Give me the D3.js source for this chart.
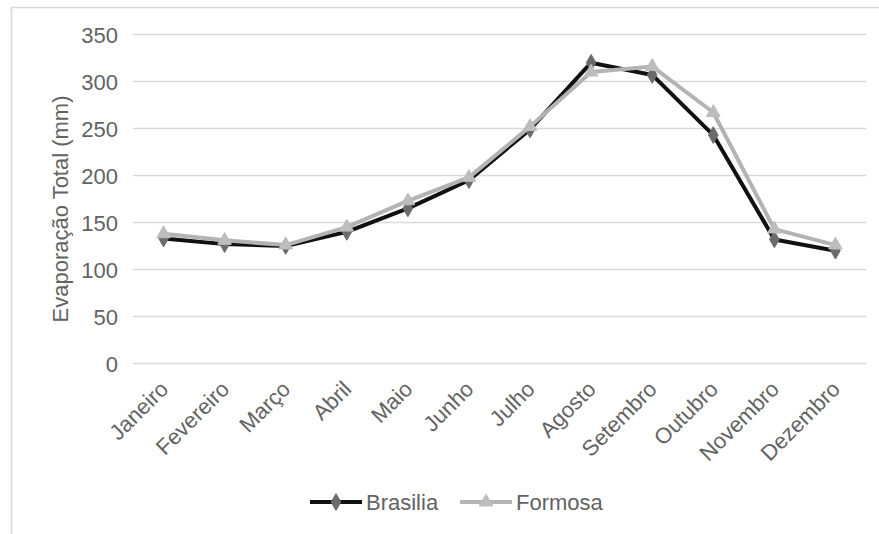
<!DOCTYPE html>
<html><head><meta charset="utf-8">
<script src="https://cdn.jsdelivr.net/npm/d3@7"></script>
<style>body{margin:0;background:#fff}svg{display:block}text{font-family:"Liberation Sans",Arial,sans-serif}</style>
</head><body><svg id="c" width="879" height="534"></svg>
<script>
const months = ["Janeiro","Fevereiro","Março","Abril","Maio","Junho","Julho","Agosto","Setembro","Outubro","Novembro","Dezembro"];
const brasilia = [133,127,125,140,165,195,249,320,307,243,132,120];
const formosa  = [138,131,126,145,173,198,252,310,316,267,143,126];
const yTicks = [0,50,100,150,200,250,300,350];
const seriesNames = ["Brasilia","Formosa"];

(function(){
const svg = d3.select("#c");
const pLeft = 133, pRight = 866, pTop = 34.5, pBottom = 363.5;
const txt = "#636363";
svg.append("rect").attr("x",11.5).attr("y",7.5).attr("width",900).attr("height",600)
  .attr("fill","#fff").attr("stroke","#d9d9d9").attr("stroke-width",1.5);

const x = d3.scaleBand().domain(months).range([pLeft,pRight]);
const y = d3.scaleLinear().domain([0,350]).range([pBottom,pTop]);

svg.append("g").selectAll("line").data(yTicks).join("line")
  .attr("x1",pLeft).attr("x2",pRight).attr("y1",d=>y(d)).attr("y2",d=>y(d))
  .attr("stroke","#d9d9d9").attr("stroke-width",1.5);

const yAxis = svg.append("g").attr("transform",`translate(${pLeft-15},0)`)
  .call(d3.axisLeft(y).tickValues(yTicks).tickSize(0).tickPadding(0));
yAxis.select(".domain").remove();
yAxis.selectAll("text").attr("fill",txt).attr("font-size",22).attr("dy","0.35em")
  .style("font-family",'"Liberation Sans",Arial,sans-serif');

const xAxis = svg.append("g").attr("transform",`translate(0,${pBottom})`)
  .call(d3.axisBottom(x).tickSize(0).tickPadding(0));
xAxis.select(".domain").remove();
xAxis.selectAll("text").attr("fill",txt).attr("font-size",22)
  .style("font-family",'"Liberation Sans",Arial,sans-serif')
  .attr("text-anchor","end").attr("dy",0).attr("y",0)
  .attr("transform","translate(6,27) rotate(-45)");

svg.append("text").attr("transform","translate(68,209) rotate(-90)")
  .attr("text-anchor","middle").attr("font-size",22).attr("fill",txt)
  .text("Evaporação Total (mm)");

const cx = m => x(m) + x.bandwidth()/2;
const line = d3.line().x((d,i)=>cx(months[i])).y(d=>y(d));

const diamond = d3.symbol().type(d3.symbolDiamond).size(80);
const tri = d3.symbol().type(d3.symbolTriangle).size(80);

svg.append("path").datum(brasilia).attr("d",line).attr("fill","none")
  .attr("stroke","#111").attr("stroke-width",4).attr("stroke-linejoin","round");
svg.append("g").selectAll("path").data(brasilia).join("path")
  .attr("d",diamond).attr("transform",(d,i)=>`translate(${cx(months[i])},${y(d)})`)
  .attr("fill","#6b6b6b").attr("stroke","#6b6b6b");
svg.append("path").datum(formosa).attr("d",line).attr("fill","none")
  .attr("stroke","#b3b3b3").attr("stroke-width",4).attr("stroke-linejoin","round");
svg.append("g").selectAll("path").data(formosa).join("path")
  .attr("d",tri).attr("transform",(d,i)=>`translate(${cx(months[i])},${y(d)})`)
  .attr("fill","#bdbdbd").attr("stroke","#bdbdbd");

const legend = [{name:seriesNames[0],x:310,stroke:"#111",mk:diamond,mc:"#6b6b6b"},
                {name:seriesNames[1],x:460,stroke:"#b3b3b3",mk:tri,mc:"#bdbdbd"}];
const lg = svg.append("g").selectAll("g").data(legend).join("g")
  .attr("transform",d=>`translate(${d.x},502)`);
lg.append("line").attr("x1",0).attr("x2",52).attr("y1",0).attr("y2",0)
  .attr("stroke",d=>d.stroke).attr("stroke-width",4);
lg.append("path").attr("d",d=>d.mk()).attr("transform","translate(26,0)")
  .attr("fill",d=>d.mc).attr("stroke",d=>d.mc);
lg.append("text").attr("x",56).attr("y",0).attr("dy","0.35em").attr("font-size",22)
  .attr("fill",txt).text(d=>d.name);
})();
</script></body></html>
